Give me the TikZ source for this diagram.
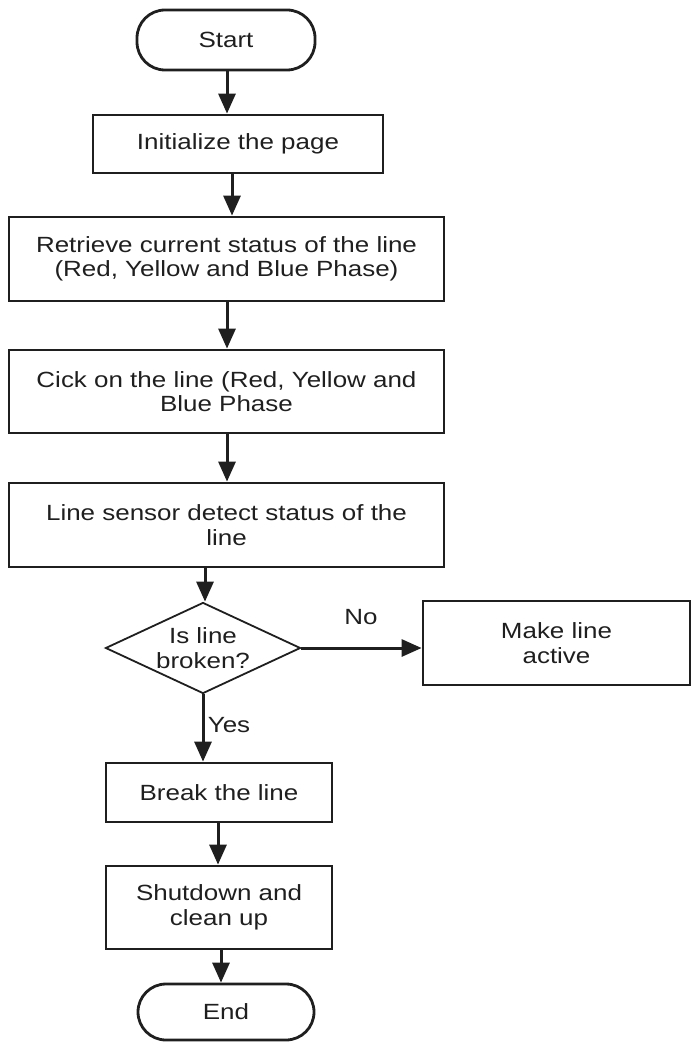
\documentclass[tikz,border=0pt]{standalone}
\usepackage{fontspec}
\setmainfont[FakeStretch=1.18]{Liberation Sans}
\usetikzlibrary{arrows.meta,shapes.geometric}
\begin{document}
\begin{tikzpicture}[x=1pt,y=-1pt,
  every node/.style={font=\fontsize{22}{24.5}\selectfont, text=black!88},
  box/.style={draw=black!88, line width=2.8pt, rectangle, align=center, inner sep=0pt},
  term/.style={box, rounded corners=28pt},
  decide/.style={draw=black!88, line width=1.8pt, diamond, inner sep=0pt},
  arr/.style={draw=black!88, line width=3pt, -{Triangle[width=17pt,length=20pt]}},
  lbl/.style={inner sep=0pt, align=center}]
\useasboundingbox (0,0) rectangle (693,1043);
\node[term, minimum width=178pt, minimum height=60pt] (start) at (226,40) {Start};
\node[box, minimum width=290pt, minimum height=58pt] (init) at (238,144) {Initialize the page};
\node[box, minimum width=435pt, minimum height=84pt] (retr) at (226.5,259) {Retrieve current status of the line\\(Red, Yellow and Blue Phase)};
\node[box, minimum width=435pt, minimum height=83pt] (click) at (226.5,391.5) {Cick on the line (Red, Yellow and\\Blue Phase};
\node[box, minimum width=435pt, minimum height=84pt] (sens) at (226.5,525) {Line sensor detect status of the\\line};
\node[decide, minimum width=195pt, minimum height=91pt] (dec) at (203,648) {};
\node[lbl] (dectext) at (dec.center) {Is line\\broken?};
\node[box, minimum width=267pt, minimum height=84pt] (act) at (556.5,643) {Make line\\active};
\node[box, minimum width=226pt, minimum height=59pt] (brk) at (219,792.5) {Break the line};
\node[box, minimum width=226pt, minimum height=83pt] (shut) at (219,907.5) {Shutdown and\\clean up};
\node[term, minimum width=176pt, minimum height=56pt] (end) at (226,1012) {End};
\coordinate (a1) at (227,0);
\draw[arr] (start.south -| a1) -- (init.north -| a1);
\coordinate (a2) at (232,0);
\draw[arr] (init.south -| a2) -- (retr.north -| a2);
\coordinate (a3) at (227,0);
\draw[arr] (retr.south -| a3) -- (click.north -| a3);
\draw[arr] (click.south -| a3) -- (sens.north -| a3);
\coordinate (a4) at (205,0);
\draw[arr] (sens.south -| a4) -- (dec.north -| a4);
\draw[arr] (dec.east) -- (act.west |- dec.east);
\coordinate (a5) at (203,0);
\draw[arr] (dec.south -| a5) -- (brk.north -| a5);
\coordinate (a6) at (218,0);
\draw[arr] (brk.south -| a6) -- (shut.north -| a6);
\coordinate (a7) at (221,0);
\draw[arr] (shut.south -| a7) -- (end.north -| a7);
\node[lbl] (no) at (361,617) {No};
\node[lbl] (yes) at (229,725) {Yes};
\end{tikzpicture}
\end{document}
